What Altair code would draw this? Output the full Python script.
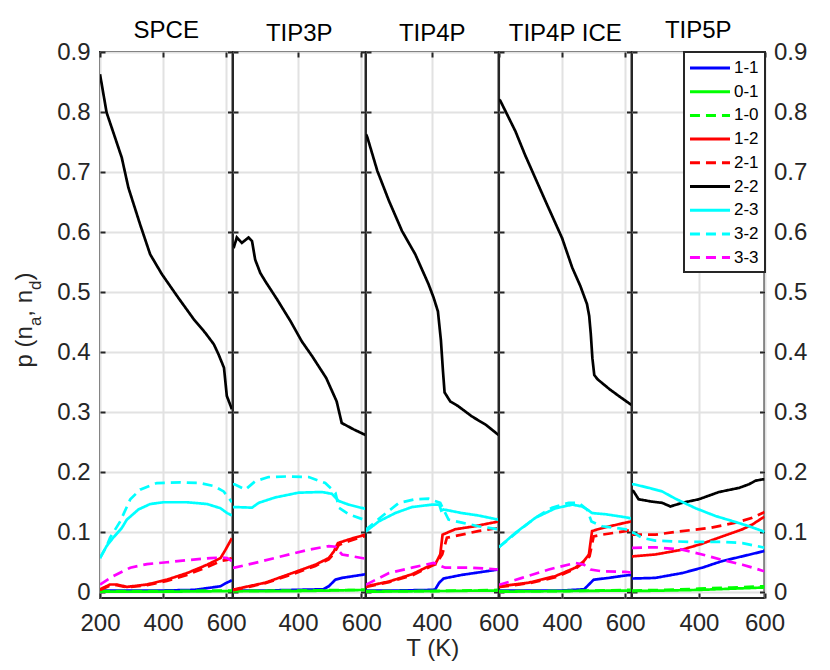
import altair as alt
import pandas as pd

FONT = "Liberation Sans"
MODELS = ["SPCE", "TIP3P", "TIP4P", "TIP4P ICE", "TIP5P"]
SERIES = ["1-1", "0-1", "1-0", "1-2", "2-1", "2-2", "2-3", "3-2", "3-3"]
COLORS = ["#0000ff", "#00ff00", "#00ff00", "#ff0000", "#ff0000", "#000000", "#00ffff", "#00ffff", "#ff00ff"]
DASHES = [[1, 0], [1, 0], [10, 6], [1, 0], [10, 6], [1, 0], [1, 0], [10, 6], [10, 6]]
XDOMAINS = [[200, 620], [195, 613], [202, 600], [200, 620], [196, 600]]
Y_TICKS = [0, 0.1, 0.2, 0.3, 0.4, 0.5, 0.6, 0.7, 0.8, 0.9]
Y_DOMAIN = [-0.0095, 0.9]

# ---------------- SPCE ----------------
spce_11_T = [200, 300, 400, 500, 540, 582, 598, 618]
spce_11_p = [0.003, 0.003, 0.003, 0.004, 0.007, 0.010, 0.015, 0.020]
spce_01_T = [200, 400, 618]
spce_01_p = [0.001, 0.001, 0.002]
spce_10_T = [200, 400, 618]
spce_10_p = [0.002, 0.002, 0.003]
spce_12_T = [200, 232, 253, 285, 349, 412, 476, 540, 582, 598, 618]
spce_12_p = [0.005, 0.013, 0.013, 0.009, 0.013, 0.021, 0.032, 0.046, 0.057, 0.071, 0.090]
spce_21_T = [200, 232, 253, 285, 349, 412, 476, 540, 582, 603, 618]
spce_21_p = [0.004, 0.011, 0.012, 0.008, 0.012, 0.019, 0.029, 0.042, 0.052, 0.054, 0.057]
spce_22_T = [200, 221, 248, 269, 290, 327, 359, 396, 449, 497, 534, 561, 576, 593, 602, 618]
spce_22_p = [0.863, 0.799, 0.757, 0.724, 0.674, 0.613, 0.563, 0.530, 0.490, 0.455, 0.432, 0.413, 0.396, 0.374, 0.327, 0.305]
spce_23_T = [200, 221, 242, 269, 285, 322, 359, 401, 476, 540, 582, 603, 618]
spce_23_p = [0.057, 0.077, 0.091, 0.107, 0.121, 0.138, 0.147, 0.150, 0.150, 0.147, 0.140, 0.132, 0.128]
spce_32_T = [200, 221, 232, 264, 296, 327, 380, 455, 518, 561, 592, 611, 618]
spce_32_p = [0.057, 0.077, 0.091, 0.118, 0.155, 0.171, 0.182, 0.183, 0.182, 0.177, 0.168, 0.155, 0.150]
spce_33_T = [200, 242, 296, 349, 412, 486, 550, 587, 603, 618]
spce_33_p = [0.013, 0.027, 0.041, 0.047, 0.050, 0.054, 0.057, 0.058, 0.057, 0.052]

# ---------------- TIP3P ----------------
tip3p_11_T = [195, 300, 480, 497, 518, 539, 613]
tip3p_11_p = [0.003, 0.003, 0.005, 0.010, 0.021, 0.024, 0.030]
tip3p_01_T = [195, 400, 613]
tip3p_01_p = [0.002, 0.002, 0.004]
tip3p_10_T = [195, 400, 613]
tip3p_10_p = [0.002, 0.003, 0.004]
tip3p_12_T = [195, 200, 297, 371, 455, 497, 513, 526, 560, 613]
tip3p_12_p = [0.005, 0.005, 0.016, 0.030, 0.046, 0.057, 0.068, 0.082, 0.088, 0.096]
tip3p_21_T = [195, 200, 297, 371, 455, 497, 513, 529, 560, 613]
tip3p_21_p = [0.004, 0.004, 0.015, 0.028, 0.044, 0.055, 0.064, 0.079, 0.085, 0.094]
tip3p_22_T = [195, 199, 207, 223, 244, 255, 265, 281, 297, 334, 376, 412, 445, 489, 522, 538, 577, 613]
tip3p_22_p = [0.580, 0.577, 0.591, 0.582, 0.591, 0.585, 0.554, 0.532, 0.518, 0.488, 0.452, 0.418, 0.393, 0.357, 0.318, 0.282, 0.271, 0.262]
tip3p_23_T = [195, 200, 255, 276, 328, 402, 476, 507, 529, 560, 613]
tip3p_23_p = [0.142, 0.142, 0.141, 0.149, 0.158, 0.166, 0.167, 0.164, 0.152, 0.146, 0.139]
tip3p_32_T = [195, 200, 234, 265, 307, 371, 434, 486, 518, 529, 560, 613]
tip3p_32_p = [0.180, 0.180, 0.171, 0.185, 0.192, 0.193, 0.192, 0.182, 0.166, 0.141, 0.130, 0.120]
tip3p_33_T = [195, 200, 265, 349, 434, 497, 518, 539, 613]
tip3p_33_p = [0.041, 0.041, 0.049, 0.060, 0.071, 0.077, 0.076, 0.063, 0.056]

# ---------------- TIP4P ----------------
tip4p_11_T = [202, 300, 400, 410, 422, 435, 490, 600]
tip4p_11_p = [0.003, 0.003, 0.004, 0.005, 0.016, 0.023, 0.029, 0.038]
tip4p_01_T = [202, 400, 600]
tip4p_01_p = [0.001, 0.002, 0.003]
tip4p_10_T = [202, 400, 600]
tip4p_10_p = [0.002, 0.002, 0.004]
tip4p_12_T = [202, 203, 271, 340, 400, 412, 425, 432, 470, 529, 600]
tip4p_12_p = [0.010, 0.010, 0.018, 0.030, 0.046, 0.049, 0.063, 0.096, 0.105, 0.110, 0.118]
tip4p_21_T = [202, 203, 271, 340, 400, 412, 431, 445, 490, 539, 600]
tip4p_21_p = [0.009, 0.009, 0.017, 0.028, 0.044, 0.047, 0.063, 0.091, 0.096, 0.102, 0.107]
tip4p_22_T = [202, 206, 236, 271, 310, 350, 390, 405, 418, 427, 433, 438, 455, 479, 520, 562, 600]
tip4p_22_p = [0.763, 0.758, 0.702, 0.652, 0.602, 0.563, 0.513, 0.491, 0.468, 0.420, 0.370, 0.333, 0.318, 0.310, 0.293, 0.279, 0.262]
tip4p_23_T = [202, 203, 240, 290, 340, 400, 422, 428, 435, 490, 539, 600]
tip4p_23_p = [0.100, 0.102, 0.118, 0.132, 0.142, 0.146, 0.146, 0.136, 0.138, 0.132, 0.128, 0.121]
tip4p_32_T = [202, 203, 251, 301, 350, 390, 425, 450, 490, 539, 600]
tip4p_32_p = [0.103, 0.105, 0.127, 0.149, 0.155, 0.156, 0.149, 0.121, 0.116, 0.110, 0.105]
tip4p_33_T = [202, 203, 271, 340, 405, 440, 519, 600]
tip4p_33_p = [0.013, 0.013, 0.032, 0.041, 0.049, 0.041, 0.041, 0.038]

# ---------------- TIP4P ICE ----------------
ice_11_T = [200, 300, 400, 470, 485, 500, 548, 601, 620]
ice_11_p = [0.003, 0.003, 0.003, 0.005, 0.013, 0.021, 0.024, 0.028, 0.029]
ice_01_T = [200, 400, 620]
ice_01_p = [0.001, 0.002, 0.003]
ice_10_T = [200, 400, 620]
ice_10_p = [0.002, 0.002, 0.004]
ice_12_T = [200, 204, 294, 379, 442, 469, 485, 495, 527, 601, 620]
ice_12_p = [0.010, 0.010, 0.016, 0.027, 0.041, 0.052, 0.063, 0.102, 0.107, 0.116, 0.118]
ice_21_T = [200, 204, 294, 379, 442, 469, 487, 500, 527, 601, 620]
ice_21_p = [0.009, 0.009, 0.015, 0.025, 0.039, 0.050, 0.060, 0.093, 0.096, 0.102, 0.104]
ice_22_T = [200, 204, 252, 283, 347, 400, 432, 458, 479, 486, 491, 496, 502, 512, 551, 585, 620]
ice_22_p = [0.821, 0.819, 0.768, 0.728, 0.652, 0.590, 0.541, 0.510, 0.480, 0.460, 0.430, 0.390, 0.362, 0.355, 0.338, 0.325, 0.312]
ice_23_T = [200, 204, 252, 315, 379, 432, 463, 485, 495, 538, 601, 620]
ice_23_p = [0.075, 0.077, 0.099, 0.124, 0.140, 0.146, 0.143, 0.136, 0.132, 0.130, 0.125, 0.123]
ice_32_T = [200, 204, 262, 315, 368, 421, 453, 479, 493, 527, 601, 620]
ice_32_p = [0.075, 0.077, 0.102, 0.124, 0.141, 0.149, 0.149, 0.138, 0.118, 0.110, 0.105, 0.103]
ice_33_T = [200, 204, 273, 358, 442, 469, 490, 527, 601, 620]
ice_33_p = [0.013, 0.013, 0.024, 0.038, 0.049, 0.046, 0.038, 0.035, 0.034, 0.033]

# ---------------- TIP5P ----------------
tip5p_11_T = [196, 201, 267, 349, 410, 471, 533, 594, 600]
tip5p_11_p = [0.023, 0.023, 0.024, 0.032, 0.041, 0.052, 0.060, 0.068, 0.069]
tip5p_01_T = [196, 300, 400, 500, 600]
tip5p_01_p = [0.002, 0.003, 0.004, 0.006, 0.008]
tip5p_10_T = [196, 300, 400, 500, 600]
tip5p_10_p = [0.003, 0.004, 0.006, 0.008, 0.010]
tip5p_12_T = [196, 201, 267, 349, 410, 471, 533, 563, 594, 600]
tip5p_12_p = [0.060, 0.060, 0.063, 0.071, 0.081, 0.093, 0.105, 0.113, 0.124, 0.126]
tip5p_21_T = [196, 201, 267, 349, 431, 512, 563, 594, 600]
tip5p_21_p = [0.096, 0.096, 0.096, 0.102, 0.107, 0.116, 0.124, 0.132, 0.134]
tip5p_22_T = [196, 201, 216, 257, 288, 313, 349, 400, 461, 523, 553, 573, 594, 600]
tip5p_22_p = [0.170, 0.168, 0.155, 0.151, 0.149, 0.143, 0.149, 0.155, 0.167, 0.174, 0.180, 0.186, 0.188, 0.188]
tip5p_23_T = [196, 201, 247, 288, 328, 390, 451, 512, 553, 594, 600]
tip5p_23_p = [0.180, 0.180, 0.174, 0.168, 0.156, 0.140, 0.127, 0.117, 0.110, 0.102, 0.100]
tip5p_32_T = [196, 201, 226, 267, 369, 471, 533, 594, 600]
tip5p_32_p = [0.100, 0.099, 0.091, 0.086, 0.084, 0.084, 0.082, 0.075, 0.074]
tip5p_33_T = [196, 201, 267, 349, 410, 471, 533, 594, 600]
tip5p_33_p = [0.074, 0.074, 0.075, 0.071, 0.063, 0.054, 0.046, 0.036, 0.035]

PANEL_DATA = {
    "SPCE": [(spce_11_T, spce_11_p), (spce_01_T, spce_01_p), (spce_10_T, spce_10_p),
             (spce_12_T, spce_12_p), (spce_21_T, spce_21_p), (spce_22_T, spce_22_p),
             (spce_23_T, spce_23_p), (spce_32_T, spce_32_p), (spce_33_T, spce_33_p)],
    "TIP3P": [(tip3p_11_T, tip3p_11_p), (tip3p_01_T, tip3p_01_p), (tip3p_10_T, tip3p_10_p),
              (tip3p_12_T, tip3p_12_p), (tip3p_21_T, tip3p_21_p), (tip3p_22_T, tip3p_22_p),
              (tip3p_23_T, tip3p_23_p), (tip3p_32_T, tip3p_32_p), (tip3p_33_T, tip3p_33_p)],
    "TIP4P": [(tip4p_11_T, tip4p_11_p), (tip4p_01_T, tip4p_01_p), (tip4p_10_T, tip4p_10_p),
              (tip4p_12_T, tip4p_12_p), (tip4p_21_T, tip4p_21_p), (tip4p_22_T, tip4p_22_p),
              (tip4p_23_T, tip4p_23_p), (tip4p_32_T, tip4p_32_p), (tip4p_33_T, tip4p_33_p)],
    "TIP4P ICE": [(ice_11_T, ice_11_p), (ice_01_T, ice_01_p), (ice_10_T, ice_10_p),
                  (ice_12_T, ice_12_p), (ice_21_T, ice_21_p), (ice_22_T, ice_22_p),
                  (ice_23_T, ice_23_p), (ice_32_T, ice_32_p), (ice_33_T, ice_33_p)],
    "TIP5P": [(tip5p_11_T, tip5p_11_p), (tip5p_01_T, tip5p_01_p), (tip5p_10_T, tip5p_10_p),
              (tip5p_12_T, tip5p_12_p), (tip5p_21_T, tip5p_21_p), (tip5p_22_T, tip5p_22_p),
              (tip5p_23_T, tip5p_23_p), (tip5p_32_T, tip5p_32_p), (tip5p_33_T, tip5p_33_p)],
}

PANEL_W = 132.5
PANEL_H = 546
TICK = 5
INK = "#262626"

# Helvetica-like advance widths (em) for the y-axis title pieces
ADV = {"p": 0.556, " ": 0.278, "(": 0.333, "n": 0.556, "a": 0.556, ",": 0.278, "d": 0.556, ")": 0.333}
YTITLE = [("p (n", False), ("a", True), (", n", False), ("d", True), (")", False)]


def frame(model):
    rows = []
    for name, (ts, ps) in zip(SERIES, PANEL_DATA[model]):
        for t, p in zip(ts, ps):
            rows.append({"T": t, "p": p, "series": name})
    return pd.DataFrame(rows)


def ytitle_layers():
    main_fs, sub_fs = 24, 17
    widths = [sum(ADV[c] for c in txt) * (sub_fs if sub else main_fs) for txt, sub in YTITLE]
    total = sum(widths)
    center = PANEL_H / 2 - 5
    y = center + total / 2
    out = []
    for (txt, sub), w in zip(YTITLE, widths):
        out.append(
            alt.Chart(pd.DataFrame({"t": [txt]}))
            .mark_text(angle=270, align="left", baseline="alphabetic", font=FONT,
                       fontSize=sub_fs if sub else main_fs, color=INK)
            .encode(text="t:N", x=alt.value(-59 if sub else -68), y=alt.value(y))
        )
        y -= w
    return out


def panel(i):
    model = MODELS[i]
    df = frame(model)
    first, last = i == 0, i == len(MODELS) - 1
    xvals = [200, 400, 600] if first else [400, 600]
    xscale = alt.Scale(domain=XDOMAINS[i], nice=False, zero=False)
    yscale = alt.Scale(domain=Y_DOMAIN, nice=False, zero=False)

    if last:
        leg = alt.Legend(title=None, orient="top-right", offset=0, symbolType="M-1.18,0H3.53",
                         symbolSize=289, symbolStrokeWidth=3, labelFontSize=17, labelFont=FONT,
                         labelColor="black", labelOffset=24, padding=6, rowPadding=5.7,
                         fillColor="white", strokeColor=INK)
    else:
        leg = None

    xaxis = dict(values=xvals, orient="bottom", offset=-TICK, tickSize=TICK, grid=True,
                 domain=False, labelPadding=13)
    if i == 2:
        xaxis["title"] = "T (K)"
        xaxis["titlePadding"] = 1
    else:
        xaxis["title"] = None

    main = alt.Chart(df).mark_line(clip=True, strokeWidth=2.7).encode(
        x=alt.X("T:Q", scale=xscale, axis=alt.Axis(**xaxis)),
        y=alt.Y("p:Q", scale=yscale,
                axis=alt.Axis(values=Y_TICKS, orient="left", offset=-TICK, tickSize=TICK, grid=True,
                              domain=False, labels=first, format=".1~f", labelPadding=10, title=None)),
        color=alt.Color("series:N", scale=alt.Scale(domain=SERIES, range=COLORS), legend=leg),
        strokeDash=alt.StrokeDash("series:N", scale=alt.Scale(domain=SERIES, range=DASHES), legend=leg),
    )
    ghost = alt.Chart(df).mark_line(clip=True, strokeOpacity=0).encode(
        x=alt.X("T:Q", scale=xscale,
                axis=alt.Axis(values=xvals, orient="top", offset=-TICK, tickSize=TICK, grid=False,
                              domain=False, labels=False, title=None)),
        y=alt.Y("p:Q", scale=yscale,
                axis=alt.Axis(values=Y_TICKS, orient="right", offset=-TICK, tickSize=TICK, grid=False,
                              domain=False, labels=last, format=".1~f", labelPadding=9, title=None)),
        detail="series:N",
    )
    layers = [main, ghost]
    if first:
        layers += ytitle_layers()
    # outer panels carry tick labels that reach above the frame, so their title sits lower
    title_offset = -3 if (first or last) else 5
    return (
        alt.layer(*layers)
        .resolve_axis(x="independent", y="independent")
        .properties(width=PANEL_W, height=PANEL_H,
                    title=alt.TitleParams(model, font=FONT, fontSize=24, fontWeight="normal",
                                          color="black", offset=title_offset))
    )


chart = (
    alt.hconcat(*[panel(i) for i in range(len(MODELS))], spacing=0, bounds="flush")
    .resolve_scale(color="independent", strokeDash="independent")
    .resolve_legend(color="independent", strokeDash="independent")
    .properties(padding={"left": 4, "top": 10, "right": 5, "bottom": 2})
    .configure_view(stroke=INK, strokeWidth=2)
    .configure_axis(labelFont=FONT, labelFontSize=24, labelColor=INK, labelFlush=False,
                    tickColor=INK, tickWidth=2, gridColor="#e2e2e2", gridWidth=2, gridOpacity=1,
                    titleFont=FONT, titleFontSize=24, titleFontWeight="normal", titleColor=INK)
    .configure_legend(strokeWidth=2)
)

chart.save("out.html", embed_options={"renderer": "svg", "actions": False})
